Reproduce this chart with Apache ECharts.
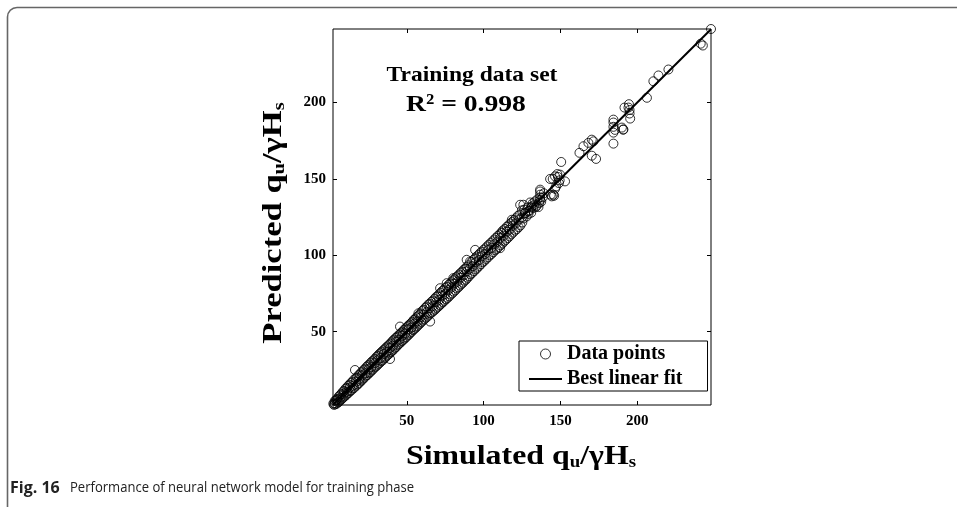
<!DOCTYPE html>
<html>
<head>
<meta charset="utf-8">
<script src="https://cdn.jsdelivr.net/npm/echarts@6/dist/echarts.min.js"></script>
<style>
html,body{margin:0;padding:0;background:#fff;}
#chart{width:957px;height:507px;}
</style>
</head>
<body>
<div id="chart"></div>
<script>
// ---- data ----
const tickValues = [50, 100, 150, 200];
const axisMin = 2;
const axisMax = 248;

// Simulated qu/γHs (x) and Predicted qu/γHs (y), read point by point
const simulated = [
  // 2 - 30
  2.2,2.6,3.1,3.4,3.9,4.3,4.7,5.2,5.6,6.0,6.4,6.9,7.3,7.8,8.2,8.6,9.1,9.5,10.0,10.4,
  10.9,11.3,11.8,12.2,12.7,13.1,13.6,14.0,14.5,14.9,15.4,15.8,16.3,16.7,17.2,17.6,18.1,18.5,19.0,19.4,
  19.9,20.3,20.8,21.2,21.7,22.1,22.6,23.0,23.5,23.9,24.4,24.8,25.3,25.7,26.2,26.6,27.1,27.5,28.0,28.4,
  28.9,29.3,29.8,
  3.0,5.0,7.0,9.0,11.0,13.0,15.0,17.0,19.0,21.0,23.0,25.0,27.0,29.0,
  // 30 - 60
  30.2,30.7,31.1,31.6,32.0,32.5,32.9,33.4,33.8,34.3,34.7,35.2,35.6,36.1,36.5,37.0,37.4,37.9,38.3,38.8,
  39.1,39.2,39.7,40.1,40.6,41.0,41.5,41.9,42.4,42.8,43.3,43.7,44.2,44.6,45.1,45.6,45.5,46.0,46.4,46.9,
  47.3,47.8,48.2,48.7,49.1,49.6,50.0,50.5,50.9,51.4,51.8,52.3,52.7,53.2,53.6,54.1,54.5,55.0,55.4,55.9,
  56.3,56.8,57.2,57.6,57.7,58.1,58.6,59.0,59.5,
  31.0,33.0,35.0,37.0,39.0,41.0,43.0,45.0,47.0,49.0,51.0,53.0,55.0,57.0,59.0,
  // 60 - 90
  60.0,60.5,61.0,61.5,62.0,62.5,63.0,63.5,64.0,64.5,65.0,65.2,65.5,66.0,66.5,67.0,67.5,68.0,68.5,69.0,
  69.5,70.0,70.5,71.0,71.5,71.7,72.0,72.5,73.0,73.5,74.0,74.5,75.0,75.5,76.0,76.2,76.6,77.1,77.6,78.1,
  78.6,79.1,79.6,80.1,80.3,80.6,81.1,81.6,82.1,82.6,83.1,83.6,84.1,84.6,85.1,85.6,86.1,86.6,87.1,87.6,
  88.1,88.6,89.0,89.1,89.6,
  61.0,63.0,65.0,67.0,69.0,71.0,73.0,75.0,77.0,79.0,81.0,83.0,85.0,87.0,89.0,
  // 90 - 140
  90.1,90.6,91.2,91.6,92.2,92.7,93.3,93.8,94.5,94.4,95.0,95.5,96.0,96.6,97.2,97.7,98.3,98.9,99.4,100.0,
  100.6,101.2,101.7,102.3,102.9,103.5,104.0,104.6,105.2,105.8,106.3,106.9,107.5,108.1,108.6,109.2,109.8,110.4,110.7,111.0,
  111.8,111.6,112.2,112.7,113.3,113.9,114.5,115.1,115.7,116.2,116.8,117.4,118.4,118.0,118.6,119.2,119.8,120.4,121.0,121.6,
  122.2,122.8,123.4,123.8,124.0,124.9,125.9,125.2,126.4,126.0,127.0,128.0,128.6,129.2,130.3,130.0,131.4,131.0,132.4,132.0,
  133.5,134.0,134.6,135.0,135.7,136.2,136.8,136.8,136.8,136.8,136.8,137.5,138.5,139.2,
  91.0,93.0,95.0,97.0,99.0,101.0,103.0,105.0,107.0,109.0,111.0,113.0,115.0,117.0,119.0,121.0,123.0,125.0,127.0,129.0,
  131.0,133.0,
  // 140 - 200
  143.7,143.3,144.4,145.4,145.9,145.0,146.5,146.5,147.2,148.0,148.4,149.0,149.5,149.8,150.5,153.0,
  162.4,165.0,168.2,170.4,170.4,171.5,173.2,
  184.5,184.5,184.5,184.5,184.5,185.5,190.0,190.8,191.0,191.7,194.3,195.0,195.4,195.0,194.6,
  // 200 - 248
  206.3,210.5,213.8,220.3,241.3,242.7,248.0
];

const predicted = [
  // 2 - 30
  2.9,2.1,4.6,2.4,5.3,2.8,6.0,3.6,7.4,4.1,8.3,5.2,9.1,5.9,10.4,6.8,11.2,7.6,12.6,8.3,
  13.1,9.4,14.5,10.0,15.2,11.1,16.4,11.6,17.0,12.8,18.3,13.2,24.9,19.5,14.6,20.1,15.5,21.4,16.3,22.0,
  17.4,23.3,18.1,24.0,19.2,25.1,20.0,25.8,21.1,27.0,21.6,27.9,22.8,28.5,23.4,29.7,24.5,30.6,25.2,31.3,
  26.4,32.2,27.1,
  3.2,5.4,6.8,9.3,10.8,13.4,14.7,17.3,18.8,21.4,22.7,25.3,26.8,29.4,
  // 30 - 60
  33.4,27.8,34.1,28.9,35.2,29.6,36.0,30.7,36.9,31.2,37.8,32.4,38.5,33.0,39.6,34.1,40.3,34.9,41.2,35.7,
  32.1,42.1,36.6,43.0,37.5,44.2,38.3,44.8,39.4,45.9,40.1,46.6,41.3,47.5,42.0,53.3,48.4,42.9,49.3,43.8,
  50.0,44.6,51.2,45.5,52.0,46.3,52.9,47.4,53.8,48.0,54.6,49.2,55.5,49.9,56.4,51.0,57.6,51.7,58.2,52.6,
  59.3,53.4,60.1,62.0,54.5,61.0,55.2,61.9,56.3,
  31.3,32.8,35.4,36.7,39.3,40.8,43.4,44.7,47.3,48.8,51.4,52.7,55.3,56.8,59.4,
  // 60 - 90
  63.5,57.2,64.3,58.0,65.6,59.1,66.4,59.8,67.7,61.0,68.2,56.6,61.9,69.5,62.7,70.3,63.6,71.4,64.4,72.6,
  65.5,73.2,66.3,74.4,67.4,78.4,75.3,68.2,76.5,69.3,77.2,70.1,78.6,71.2,81.7,79.3,72.0,80.5,73.1,81.4,
  74.2,82.3,75.0,83.5,85.0,76.1,84.2,77.0,85.6,78.2,86.3,79.0,87.4,80.1,88.5,81.2,89.2,82.0,90.6,83.3,
  91.1,84.0,97.0,92.4,85.2,
  61.2,62.8,65.4,66.7,69.3,70.8,73.4,74.6,77.2,78.8,81.4,82.7,85.3,86.8,89.4,
  // 90 - 140
  93.4,86.3,95.9,87.5,95.6,88.4,96.9,89.6,103.5,98.0,90.7,99.2,91.8,100.1,93.0,101.4,94.1,102.3,95.4,103.6,
  96.3,104.5,97.6,105.8,98.6,106.9,99.9,108.0,100.8,109.1,102.0,110.3,103.2,111.4,104.1,112.6,105.4,113.5,104.6,106.5,
  114.5,115.0,107.6,116.3,108.9,117.2,110.0,118.6,111.2,119.5,112.3,120.8,123.2,113.6,121.7,114.8,123.0,116.1,124.2,117.0,
  125.6,118.3,126.4,133.0,119.5,129.3,133.0,121.4,129.8,124.0,127.6,125.3,131.2,127.0,134.5,129.2,131.9,127.8,130.9,134.0,
  135.2,131.6,132.4,136.5,131.5,134.2,136.0,137.8,139.6,141.7,142.9,135.0,137.8,140.5,
  91.2,92.8,95.4,96.7,99.3,100.8,103.4,104.6,107.2,108.8,111.4,112.7,115.3,116.8,119.4,120.8,123.3,124.7,127.3,128.8,
  131.2,132.8,
  // 140 - 200
  139.6,149.9,138.5,139.6,138.9,149.9,143.5,151.6,145.0,153.1,151.2,147.2,149.0,152.7,161.0,148.3,
  167.0,171.3,173.5,165.1,175.6,174.5,163.0,
  173.0,180.2,186.8,188.7,184.0,182.0,183.5,182.2,182.2,196.6,196.6,192.7,189.4,195.0,198.8,
  // 200 - 248
  203.0,213.8,217.6,221.5,238.4,237.2,248.0
];

const fitX = [2, 248];
const fitY = [2.2, 247.8];

const points = simulated.map((x, i) => [x, predicted[i]]);
const fitLine = fitX.map((x, i) => [x, fitY[i]]);

const serif = '"Liberation Serif", "DejaVu Serif", serif';
const sans = '"Open Sans", "Noto Sans", sans-serif';

const chart = echarts.init(document.getElementById('chart'), null, {renderer: 'canvas'});

function sideAxis(pos, labels, margin) {
  return {
    type: 'value', min: axisMin, max: axisMax, position: pos,
    splitLine: {show: false},
    axisLine: {show: false},
    axisTick: {show: true, inside: true, length: 4, customValues: tickValues, lineStyle: {color: '#000'}},
    axisLabel: labels ? {show: true, customValues: tickValues, margin: margin,
      fontFamily: serif, fontWeight: 'bold', fontSize: 15, color: '#000'} : {show: false}
  };
}

const option = {
  backgroundColor: '#fff',
  animation: false,
  grid: {
    left: 333, top: 29, width: 378, height: 376,
    show: true, borderColor: '#000', borderWidth: 1, backgroundColor: 'transparent'
  },
  xAxis: [sideAxis('bottom', true, 9), sideAxis('top', false)],
  yAxis: [sideAxis('left', true, 7), sideAxis('right', false)],
  legend: {
    orient: 'vertical',
    left: 519, top: 341,
    padding: [3, 25, 2, 10],
    itemWidth: 33, itemHeight: 10, itemGap: 5,
    borderColor: '#000', borderWidth: 1, borderRadius: 0,
    backgroundColor: '#fff',
    textStyle: {fontFamily: serif, fontWeight: 'bold', fontSize: 20, color: '#000'},
    data: [
      {name: 'Data points', icon: 'circle', itemStyle: {color: 'transparent', borderColor: '#000', borderWidth: 1}},
      {name: 'Best linear fit', icon: 'path://M0,0H40V2.4H0Z', itemStyle: {color: '#000', borderWidth: 0}}
    ]
  },
  series: [{
    name: 'Data points',
    type: 'scatter',
    xAxisIndex: 0, yAxisIndex: 0,
    data: points,
    symbol: 'circle',
    symbolSize: 9,
    itemStyle: {color: 'transparent', borderColor: '#000', borderWidth: 1},
    silent: true
  }, {
    name: 'Best linear fit',
    type: 'line',
    xAxisIndex: 0, yAxisIndex: 0,
    data: fitLine,
    symbol: 'none',
    lineStyle: {color: '#000', width: 2},
    itemStyle: {color: '#000'},
    z: 3,
    silent: true
  }],
  graphic: [
    {
      type: 'line', silent: true,
      shape: {x1: 7.5, y1: 17, x2: 7.5, y2: 507},
      style: {stroke: '#666', lineWidth: 1.6}
    },
    {
      type: 'line', silent: true,
      shape: {x1: 17, y1: 7.5, x2: 957, y2: 7.5},
      style: {stroke: '#666', lineWidth: 1.6}
    },
    {
      type: 'arc', silent: true,
      shape: {cx: 17, cy: 17, r: 9.5, startAngle: Math.PI, endAngle: Math.PI * 1.5},
      style: {stroke: '#666', lineWidth: 1.6, fill: null}
    },
    {
      type: 'text', silent: true, x: 472, y: 75, scaleX: 1.07,
      style: {
        text: 'Training data set', x: 0, y: 0, align: 'center', verticalAlign: 'middle',
        font: 'bold 22px ' + serif, fill: '#000'
      }
    },
    {
      type: 'text', silent: true, x: 466, y: 105, scaleX: 1.15,
      style: {
        text: 'R² = 0.998', x: 0, y: 0, align: 'center', verticalAlign: 'middle',
        font: 'bold 24px ' + serif, fill: '#000'
      }
    },
    {
      type: 'text', silent: true, x: 521, y: 457, scaleX: 1.18,
      style: {
        text: '{a|Simulated q}{b|u}{a|/γH}{b|s}', x: 0, y: 0, align: 'center', verticalAlign: 'middle',
        rich: {
          a: {fontFamily: serif, fontWeight: 'bold', fontSize: 27, color: '#000'},
          b: {fontFamily: serif, fontWeight: 'bold', fontSize: 16, color: '#000', verticalAlign: 'bottom'}
        }
      }
    },
    {
      type: 'text', silent: true,
      x: 274, y: 223, rotation: Math.PI / 2, scaleX: 1.28,
      style: {
        text: '{a|Predicted q}{b|u}{a|/γH}{b|s}', x: 0, y: 0, align: 'center', verticalAlign: 'middle',
        rich: {
          a: {fontFamily: serif, fontWeight: 'bold', fontSize: 27, color: '#000'},
          b: {fontFamily: serif, fontWeight: 'bold', fontSize: 16, color: '#000', verticalAlign: 'bottom'}
        }
      }
    },
    {
      type: 'text', silent: true, x: 10, y: 488,
      style: {
        text: 'Fig. 16', x: 0, y: 0, align: 'left', verticalAlign: 'middle',
        font: 'bold 16px ' + sans, fill: '#222'
      }
    },
    {
      type: 'text', silent: true, x: 70, y: 488, scaleX: 0.87,
      style: {
        text: 'Performance of neural network model for training phase', x: 0, y: 0,
        align: 'left', verticalAlign: 'middle',
        font: '15px ' + sans, fill: '#222'
      }
    }
  ]
};

chart.setOption(option);
</script>
</body>
</html>
